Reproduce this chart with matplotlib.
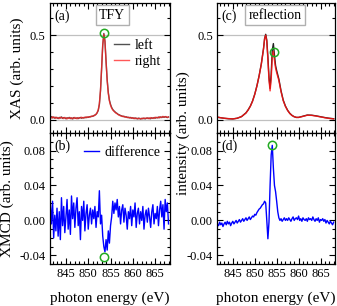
import numpy as np
import matplotlib
matplotlib.use("Agg")
import matplotlib.pyplot as plt
from matplotlib.ticker import MultipleLocator

plt.rcParams['font.family'] = ['Liberation Serif', 'DejaVu Serif']
plt.rcParams['axes.unicode_minus'] = False

# energy grid of the noisy scans (841.5 ... 868.0 eV, 0.25 eV step)
energy = np.arange(841.5, 868.01, 0.25)

# (a) TFY, left / right circular polarisation
tfy_left = [
    0.012, 0.018, 0.010, 0.015, 0.008, 0.014, 0.011, 0.006,
    0.013, 0.009, 0.016, 0.007, 0.012, 0.010, 0.005, 0.011,
    0.008, 0.013, 0.006, 0.010, 0.004, 0.012, 0.009, 0.007,
    0.011, 0.006, 0.010, 0.013, 0.008, 0.012, 0.009, 0.014,
    0.011, 0.015, 0.013, 0.017, 0.016, 0.020, 0.019, 0.024,
    0.026, 0.032, 0.040, 0.055, 0.090, 0.170, 0.300, 0.440,
    0.510, 0.465, 0.345, 0.235, 0.160, 0.115, 0.090, 0.072,
    0.060, 0.052, 0.046, 0.040, 0.036, 0.030, 0.028, 0.024,
    0.022, 0.018, 0.020, 0.015, 0.017, 0.012, 0.014, 0.010,
    0.013, 0.008, 0.011, 0.006, 0.010, 0.007, 0.004, 0.009,
    0.006, 0.003, 0.008, 0.005, 0.009, 0.004, 0.007, 0.010,
    0.006, 0.009, 0.005, 0.011, 0.007, 0.012, 0.008, 0.013,
    0.010, 0.015, 0.011, 0.016, 0.012, 0.017, 0.013, 0.018,
    0.014, 0.012, 0.016]
tfy_right = [
    0.015, 0.009, 0.017, 0.011, 0.014, 0.007, 0.013, 0.010,
    0.006, 0.014, 0.010, 0.012, 0.006, 0.013, 0.009, 0.004,
    0.011, 0.007, 0.012, 0.005, 0.010, 0.006, 0.013, 0.008,
    0.005, 0.012, 0.008, 0.010, 0.014, 0.009, 0.013, 0.011,
    0.016, 0.012, 0.017, 0.014, 0.019, 0.018, 0.022, 0.021,
    0.028, 0.030, 0.042, 0.058, 0.095, 0.175, 0.305, 0.445,
    0.505, 0.460, 0.340, 0.230, 0.155, 0.110, 0.085, 0.068,
    0.057, 0.050, 0.043, 0.038, 0.034, 0.029, 0.025, 0.023,
    0.019, 0.021, 0.016, 0.018, 0.013, 0.015, 0.011, 0.013,
    0.009, 0.012, 0.007, 0.010, 0.005, 0.009, 0.007, 0.004,
    0.008, 0.006, 0.004, 0.009, 0.006, 0.008, 0.010, 0.006,
    0.010, 0.005, 0.012, 0.008, 0.010, 0.007, 0.014, 0.011,
    0.013, 0.010, 0.017, 0.012, 0.015, 0.019, 0.014, 0.016,
    0.018, 0.013, 0.015]

# (b) XMCD difference
xmcd_diff = [
    0.018, -0.004, 0.022, -0.020, 0.006, -0.012, 0.014, -0.018,
    0.010, -0.022, 0.026, -0.006, 0.016, -0.014, 0.004, 0.024,
    -0.010, 0.012, -0.016, 0.028, 0.002, 0.020, -0.008, 0.014,
    0.026, -0.006, 0.010, -0.022, 0.016, 0.000, 0.022, -0.012,
    0.008, 0.018, -0.010, 0.006, 0.014, -0.004, 0.012, 0.002,
    0.016, -0.008, 0.010, 0.004, 0.034, -0.004, 0.006, -0.018,
    -0.030, -0.036, -0.022, -0.034, -0.012, -0.026, -0.006, 0.004,
    0.022, 0.008, 0.020, 0.012, 0.024, 0.004, 0.016, -0.004,
    0.012, 0.018, -0.002, 0.014, 0.006, -0.010, 0.010, 0.002,
    0.016, -0.006, 0.012, 0.004, 0.020, -0.008, 0.008, 0.014,
    -0.004, 0.010, 0.000, 0.016, -0.010, 0.006, 0.012, -0.002,
    0.014, 0.004, -0.008, 0.010, 0.018, -0.004, 0.008, 0.002,
    0.016, -0.006, 0.012, 0.022, 0.004, 0.018, -0.010, 0.024,
    0.010, 0.020, -0.004]

# (c) reflection, left / right
refl_energy = [841.5, 842, 843, 844, 845, 846, 847, 848, 848.5, 849, 849.5,
               850, 850.5, 851, 851.5, 852, 852.25, 852.5, 852.75, 853,
               853.25, 853.5, 853.75, 854, 854.25, 854.5, 854.75, 855,
               855.25, 855.5, 856, 856.5, 857, 857.5, 858, 858.5, 859,
               859.5, 860, 861, 862, 863, 864, 865, 866, 867, 868]
refl_left = [0.014, 0.012, 0.008, 0.005, 0.004, 0.008, 0.018, 0.040, 0.058,
             0.080, 0.110, 0.150, 0.200, 0.260, 0.330, 0.420, 0.480, 0.505,
             0.470, 0.370, 0.250, 0.185, 0.270, 0.410, 0.450, 0.380, 0.320,
             0.290, 0.265, 0.240, 0.170, 0.115, 0.080, 0.055, 0.037, 0.025,
             0.017, 0.013, 0.013, 0.020, 0.027, 0.026, 0.022, 0.017, 0.012,
             0.008, 0.005]
refl_right = [0.015, 0.012, 0.008, 0.006, 0.004, 0.008, 0.018, 0.039, 0.057,
              0.079, 0.109, 0.149, 0.199, 0.258, 0.328, 0.418, 0.478, 0.500,
              0.462, 0.355, 0.235, 0.170, 0.240, 0.370, 0.405, 0.350, 0.305,
              0.278, 0.255, 0.232, 0.165, 0.112, 0.078, 0.054, 0.036, 0.024,
              0.017, 0.013, 0.013, 0.019, 0.026, 0.025, 0.021, 0.016, 0.011,
              0.007, 0.004]

# (d) reflection difference
refl_diff = [
    -0.004, -0.006, -0.002, -0.005, -0.003, -0.007, -0.004, -0.002,
    -0.005, -0.001, -0.004, -0.002, -0.006, -0.003, -0.001, -0.004,
    -0.002, 0.000, -0.003, -0.001, 0.001, -0.002, 0.000, 0.002,
    -0.001, 0.001, 0.003, 0.000, 0.002, 0.004, 0.001, 0.003,
    0.005, 0.004, 0.007, 0.006, 0.009, 0.011, 0.013, 0.014,
    0.016, 0.018, 0.019, 0.022, 0.020, 0.000, -0.021, -0.002,
    0.040, 0.075, 0.086, 0.060, 0.040, 0.033, 0.022, 0.010,
    0.003, 0.000, 0.002, -0.001, 0.001, 0.003, 0.000, 0.002,
    0.000, 0.003, 0.001, -0.001, 0.002, 0.004, 0.000, 0.002,
    0.003, 0.001, 0.005, 0.000, 0.002, -0.001, 0.003, 0.001,
    0.000, 0.002, -0.001, 0.003, 0.001, 0.002, 0.000, 0.004,
    0.001, -0.001, 0.002, 0.000, 0.003, -0.002, 0.001, 0.000,
    0.002, -0.001, 0.001, -0.003, 0.000, -0.002, -0.004, -0.001,
    -0.003, -0.005, -0.002]

# green markers (energy, value) for panels a, b, c, d
mark_energy = [853.6, 853.6, 854.3, 854.05]
mark_value = [0.51, -0.042, 0.40, 0.086]

xlim = (841.4, 868.3)
green = '#22aa22'
fs_tick = 9
fs_lab = 11

fig = plt.figure(figsize=(3.37, 3.06), dpi=100)
ax_a = fig.add_axes([0.148, 0.565, 0.356, 0.425])
ax_b = fig.add_axes([0.148, 0.137, 0.356, 0.428])
ax_c = fig.add_axes([0.644, 0.565, 0.350, 0.425])
ax_d = fig.add_axes([0.644, 0.137, 0.350, 0.428])

for ax in (ax_a, ax_b, ax_c, ax_d):
    ax.set_xlim(*xlim)
    ax.xaxis.set_major_locator(MultipleLocator(5))
    ax.xaxis.set_minor_locator(MultipleLocator(1))
    ax.tick_params(which='both', direction='in', top=True, right=True,
                   labelsize=fs_tick, width=0.8, pad=3)
    ax.tick_params(which='major', length=4)
    ax.tick_params(which='minor', length=2)
    for sp in ax.spines.values():
        sp.set_linewidth(0.9)

# top panels
for ax in (ax_a, ax_c):
    ax.set_ylim(-0.08, 0.69)
    ax.set_yticks([0.0, 0.5])
    ax.yaxis.set_minor_locator(MultipleLocator(0.1))
    ax.set_yticklabels(['0.0', '0.5'])
    ax.tick_params(labelbottom=False)
    ax.axhline(0.0, color='#c0c0c0', lw=0.9, zorder=0)
    ax.axhline(0.5, color='#c0c0c0', lw=0.9, zorder=0)

# bottom panels
for ax in (ax_b, ax_d):
    ax.set_ylim(-0.05, 0.1)
    ax.set_yticks([-0.04, 0.0, 0.04, 0.08])
    ax.set_yticklabels(['-0.04', '0.00', '0.04', '0.08'])
    ax.yaxis.set_minor_locator(MultipleLocator(0.01))
    ax.set_xticks([845, 850, 855, 860, 865])
    ax.set_xlabel('photon energy (eV)', fontsize=fs_lab, labelpad=8)

# (a)
ax_a.plot(energy, tfy_left, color='#333333', lw=1.0, alpha=0.85, label='left')
ax_a.plot(energy, tfy_right, color='#ff2020', lw=1.0, alpha=0.75, label='right')
ax_a.plot(mark_energy[0], mark_value[0], 'o', mfc='none', mec=green, ms=6, mew=1.1)
ax_a.legend(loc='upper right', bbox_to_anchor=(1.03, 0.82), frameon=False,
            fontsize=10, handlelength=1.1, handletextpad=0.4, labelspacing=0.2)
ax_a.text(0.04, 0.95, '(a)', transform=ax_a.transAxes, fontsize=10, va='top')
ax_a.text(0.52, 0.955, 'TFY', transform=ax_a.transAxes, fontsize=10,
          ha='center', va='top',
          bbox=dict(boxstyle='square,pad=0.25', fc='white', ec='#b0b0b0', lw=1))
ax_a.set_ylabel('XAS (arb. units)', fontsize=fs_lab, labelpad=4)

# (b)
ax_b.plot(energy, xmcd_diff, color='#0000ff', lw=1.0, label='difference')
ax_b.plot(mark_energy[1], mark_value[1], 'o', mfc='none', mec=green, ms=6, mew=1.1)
ax_b.legend(loc='upper right', bbox_to_anchor=(1.03, 1.0), frameon=False,
            fontsize=10, handlelength=1.1, handletextpad=0.4)
ax_b.text(0.04, 0.95, '(b)', transform=ax_b.transAxes, fontsize=10, va='top')
ax_b.set_ylabel('XMCD (arb. units)', fontsize=fs_lab, labelpad=4)

# (c)
ax_c.plot(refl_energy, refl_left, color='#222222', lw=1.0)
ax_c.plot(refl_energy, refl_right, color='#ff1010', lw=1.0, alpha=0.85)
ax_c.plot(mark_energy[2], mark_value[2], 'o', mfc='none', mec=green, ms=6, mew=1.1)
ax_c.text(0.04, 0.95, '(c)', transform=ax_c.transAxes, fontsize=10, va='top')
ax_c.text(0.49, 0.955, 'reflection', transform=ax_c.transAxes, fontsize=10,
          ha='center', va='top',
          bbox=dict(boxstyle='square,pad=0.25', fc='white', ec='#b0b0b0', lw=1))

# (d)
ax_d.plot(energy, refl_diff, color='#0000ff', lw=1.0)
ax_d.plot(mark_energy[3], mark_value[3], 'o', mfc='none', mec=green, ms=6, mew=1.1)
ax_d.text(0.04, 0.95, '(d)', transform=ax_d.transAxes, fontsize=10, va='top')

fig.text(0.545, 0.565, 'intensity (arb. units)', rotation=90, fontsize=fs_lab,
         ha='center', va='center')

fig.savefig('out.png', dpi=100)
